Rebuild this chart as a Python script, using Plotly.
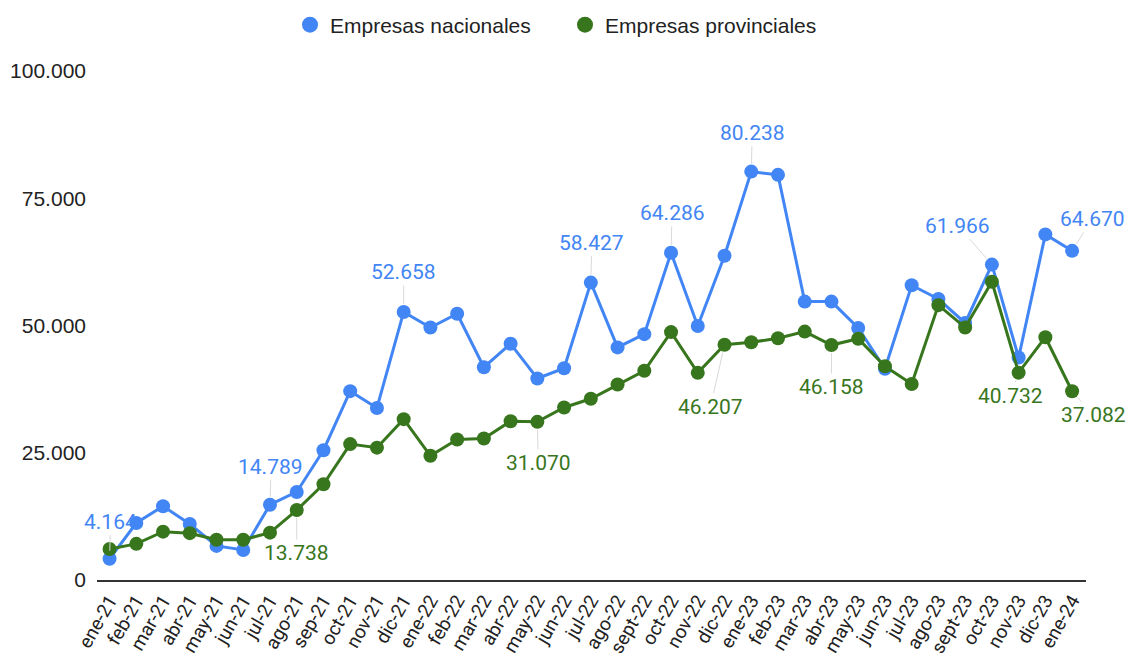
import plotly.graph_objects as go

months = ["ene-21","feb-21","mar-21","abr-21","may-21","jun-21","jul-21","ago-21","sep-21","oct-21","nov-21","dic-21",
          "ene-22","feb-22","mar-22","abr-22","may-22","jun-22","jul-22","ago-22","sept-22","oct-22","nov-22","dic-22",
          "ene-23","feb-23","mar-23","abr-23","may-23","jun-23","jul-23","ago-23","sept-23","oct-23","nov-23","dic-23",
          "ene-24"]

nacionales = [4164, 11200, 14500, 11000, 6700, 5900, 14789, 17300, 25500, 37100, 33800, 52658,
              49600, 52300, 41800, 46400, 39600, 41600, 58427, 45700, 48300, 64286, 49900, 63700,
              80238, 79600, 54700, 54700, 49500, 41500, 57900, 55200, 50500, 61966, 43700, 67900,
              64670]

provinciales = [6100, 7100, 9500, 9200, 7900, 7900, 9300, 13738, 18800, 26700, 26000, 31600,
                24400, 27600, 27800, 31200, 31070, 33900, 35600, 38400, 41100, 48700, 40700, 46207,
                46700, 47500, 48800, 46158, 47400, 42000, 38500, 54000, 49600, 58600, 40732, 47700,
                37082]

y_ticks = [0, 25000, 50000, 75000, 100000]

# labelled points: (month index, text offset x, text offset y)
labels_nac = [(0, 1, -37), (6, 1, -38), (11, 0, -40), (18, 1, -40), (21, 1, -40),
              (24, 1, -39), (33, -34, -39), (36, 20, -32)]
labels_prov = [(7, 0, 43), (16, 1, 41), (23, -14, 62), (27, 0, 42), (34, -8, 23), (36, 21, 24)]

BLUE = "#4285F4"
GREEN = "#38761D"
FONT = "Roboto, Arial, sans-serif"
AXFONT = "Arial, 'Liberation Sans', sans-serif"

fig = go.Figure()
fig.add_trace(go.Scatter(x=months, y=nacionales, name="Empresas nacionales", mode="lines+markers",
                         line=dict(color=BLUE, width=3), marker=dict(color=BLUE, size=14),
                         showlegend=False))
fig.add_trace(go.Scatter(x=months, y=provinciales, name="Empresas provinciales", mode="lines+markers",
                         line=dict(color=GREEN, width=3), marker=dict(color=GREEN, size=14),
                         showlegend=False))
# legend-only entries (circle symbol, no line)
fig.add_trace(go.Scatter(x=[None], y=[None], name="Empresas nacionales", mode="markers",
                         marker=dict(color=BLUE, size=20), showlegend=True))
fig.add_trace(go.Scatter(x=[None], y=[None], name="Empresas provinciales", mode="markers",
                         marker=dict(color=GREEN, size=20), showlegend=True))

def fmt(v):
    return f"{v:,}".replace(",", ".")

annotations = []
for series, color, labels in [(nacionales, BLUE, labels_nac), (provinciales, GREEN, labels_prov)]:
    for i, ax, ay in labels:
        annotations.append(dict(x=months[i], y=series[i], xref="x", yref="y", text=fmt(series[i]),
                                showarrow=True, arrowhead=0, arrowwidth=1, arrowcolor="#d9d9d9",
                                ax=ax, ay=ay, standoff=8,
                                font=dict(family=FONT, size=21, color=color)))

fig.update_layout(
    width=1129, height=657,
    margin=dict(l=97, r=43, t=71, b=77, autoexpand=False),
    paper_bgcolor="white", plot_bgcolor="white",
    separators=",.",
    font=dict(family=AXFONT, size=20, color="#222222"),
    showlegend=True,
    legend=dict(orientation="h", xref="container", x=290 / 1129, xanchor="left",
                yref="container", y=1 - 25 / 657, yanchor="middle", entrywidth=230,
                font=dict(family=AXFONT, size=21, color="#222222"), itemsizing="trace"),
    annotations=annotations,
)
fig.update_xaxes(type="category", range=[-0.47, 36.52], tickangle=-60, showgrid=False,
                 showline=True, linecolor="#333333", linewidth=2, zeroline=False, automargin=False,
                 tickfont=dict(family=FONT, size=19, color="#222222"))
fig.update_yaxes(range=[0, 100000], tickvals=y_ticks, tickformat=",d", showgrid=False,
                 zeroline=False, showline=False, ticklabelstandoff=10, automargin=False,
                 tickfont=dict(family=AXFONT, size=21, color="#222222"))

fig.write_html("out.html", post_script="document.body.style.margin='0';",
               config={"displayModeBar": False})
